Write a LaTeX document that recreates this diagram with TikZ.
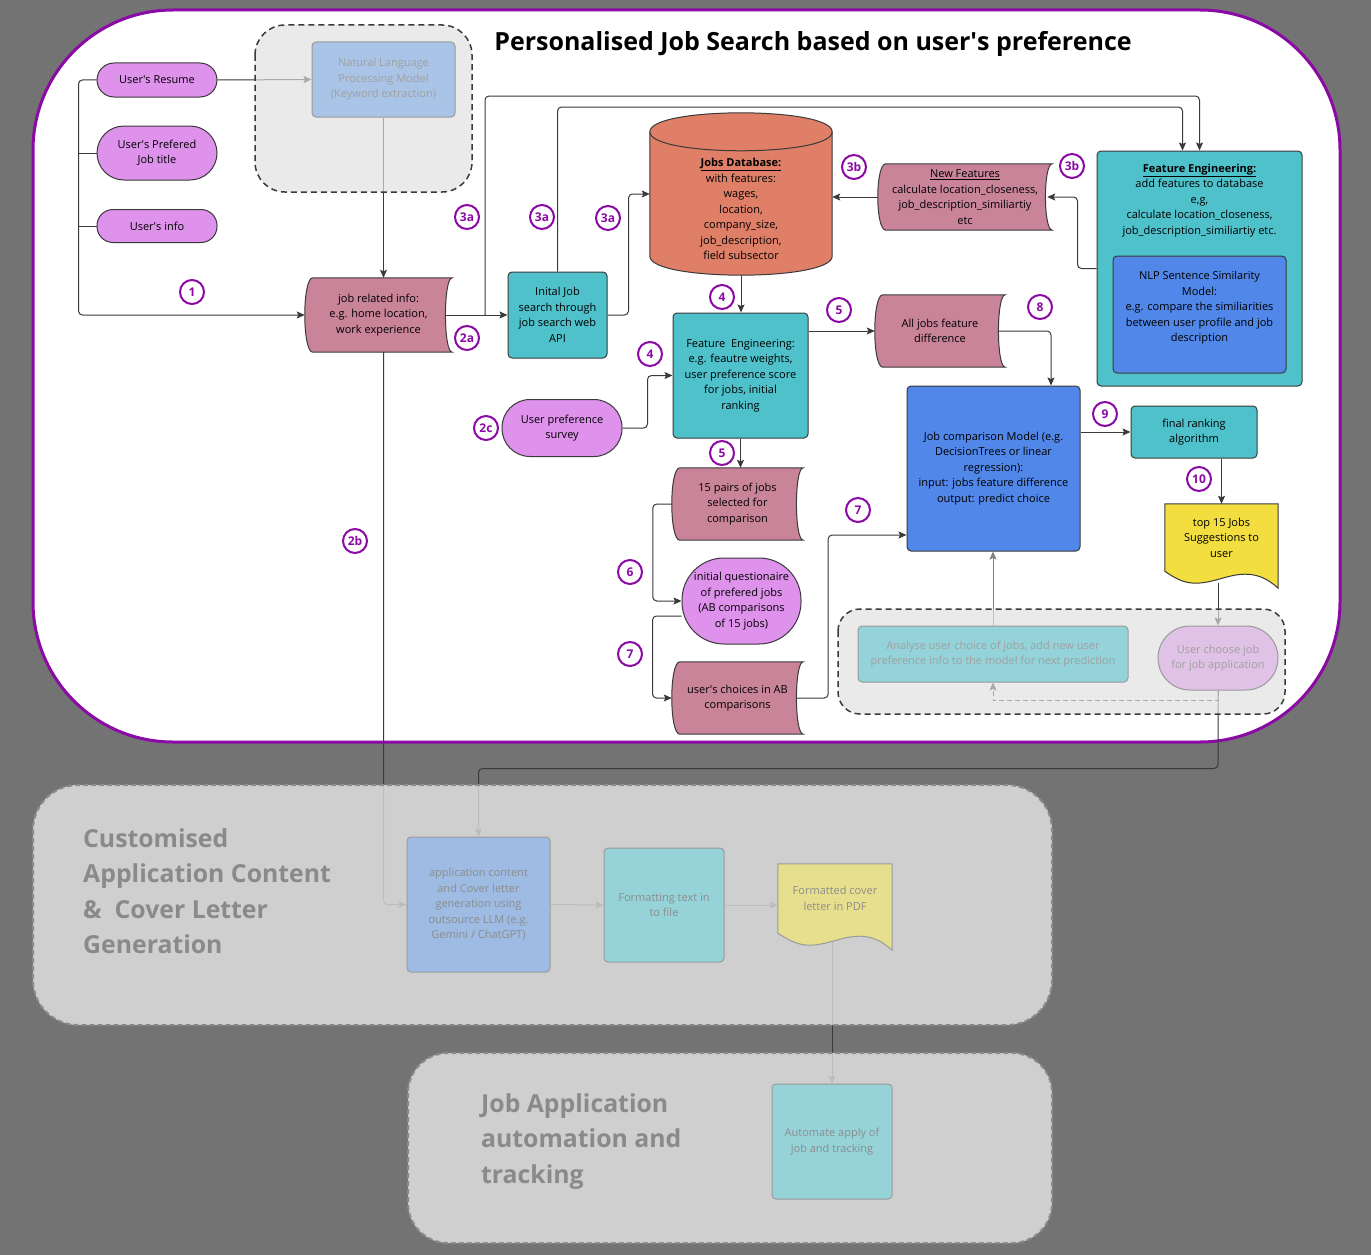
\documentclass[tikz,border=0pt]{standalone}
\usepackage{fontspec}
\setmainfont{Open Sans}
\usetikzlibrary{arrows.meta, calc, positioning}
\definecolor{bggray}{HTML}{737373}
\definecolor{panelpurple}{HTML}{8B0AA5}
\definecolor{pillviolet}{HTML}{DE92EC}
\definecolor{mauve}{HTML}{C98499}
\definecolor{tealbox}{HTML}{4FC1CB}
\definecolor{bluebox}{HTML}{5187E8}
\definecolor{salmon}{HTML}{E07F67}
\definecolor{jobyellow}{HTML}{F2DE3E}
\definecolor{linedark}{HTML}{3A3A3A}
\definecolor{veilgray}{HTML}{E1E1E1}
\definecolor{nlpfaded}{HTML}{A9C4E6}
\definecolor{fadedline}{HTML}{9A9A9A}
\definecolor{fadedtext}{HTML}{A0A0A0}
\definecolor{analysefaded}{HTML}{93D3D9}
\definecolor{choosefaded}{HTML}{E1C2E7}
\definecolor{appblue}{HTML}{9DBBE3}
\definecolor{lowteal}{HTML}{95D3D9}
\definecolor{pdfyellow}{HTML}{E6E08E}
\definecolor{lowtext}{HTML}{8C8C8C}
\definecolor{headgray}{HTML}{8A8A8A}
\newcommand{\nodefont}{\fontsize{11}{15.5}\selectfont}
\newcommand{\apos}{\textquotesingle}
\pgfdeclarelayer{background}
\pgfdeclarelayer{veil}
\pgfdeclarelayer{veiltop}
\pgfsetlayers{background,main,veil,veiltop}
\tikzset{every node/.style={font=\nodefont},
  line/.style={draw=linedark, line width=1pt, rounded corners=4pt},
  arrow/.style={line, -{Stealth[length=8pt,width=7pt,inset=1.5pt]}},
  box/.style={rectangle, draw=linedark, line width=1pt, rounded corners=4pt, align=center, inner sep=2pt},
  pill/.style={box, fill=pillviolet, rounded corners=#1},
  shapetext/.style={rectangle, align=center, inner sep=2pt},
  faded/.style={draw=fadedline, text=fadedtext},
  lowbox/.style={box, draw=fadedline, text=lowtext},
  heading/.style={align=left, anchor=west, inner sep=0pt, text=headgray, font=\fontsize{24.8}{35.5}\selectfont\bfseries},
  badge/.style={circle, draw=panelpurple, line width=2pt, fill=white, minimum size=24pt, inner sep=0pt, text=panelpurple, font=\fontsize{12}{13}\selectfont\bfseries},
  groupveil/.style={fill=veilgray, fill opacity=0.67, draw=linedark, line width=1.5pt, dash pattern=on 6pt off 4pt, rounded corners=#1},
  panelveil/.style={fill=white, fill opacity=0.664, draw=fadedline!90!black, line width=2pt, dash pattern=on 5pt off 3pt, rounded corners=#1}}
\newcommand{\storedfill}[2]{\fill[#2, draw=linedark, line width=1pt] ([xshift=8pt]#1.north west) -- (#1.north east) .. controls ([xshift=-9pt]#1.north east) and ([xshift=-9pt]#1.south east) .. (#1.south east) -- ([xshift=8pt]#1.south west) .. controls ([xshift=-2.7pt]#1.south west) and ([xshift=-2.7pt]#1.north west) .. ([xshift=8pt]#1.north west) -- cycle;}
\newcommand{\docfill}[3]{\fill[#2, draw=#3, line width=1pt] (#1.north west) -- (#1.north east) -- ([yshift=-17pt]#1.south east) .. controls ([xshift=-10pt,yshift=-8pt]#1.south east) and ([xshift=-20pt,yshift=-3pt]#1.south east) .. ([xshift=-33pt,yshift=-3pt]#1.south east) .. controls ([xshift=-50pt,yshift=-3pt]#1.south east) and ([xshift=-65pt,yshift=-12pt]#1.south east) .. ([xshift=-83pt,yshift=-12pt]#1.south east) .. controls ([xshift=-95pt,yshift=-12pt]#1.south east) and ([xshift=-105pt,yshift=-6pt]#1.south east) .. (#1.south west) -- cycle;}

\begin{document}
\begin{tikzpicture}[x=1pt, y=-1pt]
\useasboundingbox (0,0) rectangle (1371,1255);

\node[font=\fontsize{25}{30}\selectfont\bfseries] (title) at (813,44) {Personalised Job Search based on user\apos s preference};

\node[pill=17pt, minimum width=120pt, minimum height=34pt] (resume) at (157,80) {User\apos s Resume};
\node[pill=27pt, minimum width=120pt, minimum height=54pt] (job_title) at (157,153) {User\apos s Prefered\\Job title};
\node[pill=16pt, minimum width=120pt, minimum height=33pt] (user_info) at (157,226) {User\apos s info};
\node[shapetext, minimum width=147pt, minimum height=74pt] (job_info) at (378.5,315) {job related info:\\e.g. home location,\\work experience};
\node[box, fill=tealbox, minimum width=99pt, minimum height=86pt] (init_search) at (557.5,315) {Inital Job\\search through\\job search web\\API};
\node[minimum width=182pt, minimum height=162pt] (jobs_db) at (741,194) {};
\node[shapetext] (db_label) at (741,209) {\underline{\textbf{Jobs Database:}}\\with features:\\wages,\\location,\\company\_size,\\job\_description,\\field subsector};
\node[shapetext, minimum width=174pt, minimum height=66pt] (new_feat) at (965,197) {\underline{New Features}\\calculate location\_closeness,\\job\_description\_similiartiy\\etc};
\node[box, fill=tealbox, minimum width=205pt, minimum height=235pt] (fe_db) at (1199.5,268.5) {};
\node[shapetext, anchor=north] (fe_db_label) at ([yshift=-11pt]fe_db.north) {\underline{\textbf{Feature Engineering:}}\\add features to database\\e,g,\\calculate location\_closeness,\\job\_description\_similiartiy etc.};
\node[box, fill=bluebox, minimum width=173pt, minimum height=117pt, text depth=16pt] (nlp_sim) at (1199.5,314.5) {NLP Sentence Similarity\\Model:\\e.g. compare the similiarities\\between user profile and job\\description};
\node[box, fill=tealbox, minimum width=135pt, minimum height=125pt] (fe_pref) at (740.5,375.5) {Feature~ Engineering:\\e.g. feautre weights,\\user preference score\\for jobs, initial\\ranking};
\node[pill=28pt, minimum width=120pt, minimum height=57pt] (survey) at (562,428) {User preference\\survey};
\node[shapetext, minimum width=131pt, minimum height=72pt] (pairs) at (737.5,504) {15 pairs of jobs\\selected for\\comparison};
\node[pill=42pt, minimum width=119pt, minimum height=86pt, inner sep=0pt] (questionaire) at (741.5,601) {initial questionaire\\of prefered jobs\\(AB comparisons\\of 15 jobs)};
\node[shapetext, minimum width=131pt, minimum height=72pt] (choices) at (737.5,698) {user\apos s choices in AB\\comparisons};
\node[shapetext, minimum width=130pt, minimum height=72pt] (all_diff) at (940,331) {All jobs feature\\difference};
\node[box, fill=bluebox, minimum width=173pt, minimum height=165pt] (jc_model) at (993.5,468.5) {Job comparison Model (e.g.\\DecisionTrees or linear\\regression):\\input: jobs feature difference\\output: predict choice};
\node[box, fill=tealbox, minimum width=126pt, minimum height=52pt] (final_rank) at (1194,432) {final ranking\\algorithm};
\node[shapetext, minimum width=113pt, minimum height=67pt] (top_jobs) at (1221.5,537.5) {top 15 Jobs\\Suggestions to\\user};

\begin{pgfonlayer}{veiltop}
\node[box, faded, fill=nlpfaded, minimum width=143pt, minimum height=75pt] (nlp_model) at (383.5,79.5) {Natural Language\\Processing Model\\(Keyword extraction)};
\node[box, faded, fill=analysefaded, minimum width=270pt, minimum height=56pt] (analyse) at (993,654) {Analyse user choice of jobs, add new user\\preference info to the model for next prediction};
\node[pill=32pt, faded, fill=choosefaded, minimum width=120pt, minimum height=64pt] (user_choose) at (1218,658) {User choose job\\for job application};
\node[lowbox, fill=appblue, minimum width=143pt, minimum height=135pt] (app_content) at (478.5,904.5) {application content\\and Cover letter\\generation using\\outsource LLM (e.g.\\Gemini / ChatGPT)};
\node[lowbox, fill=lowteal, minimum width=120pt, minimum height=114pt] (formatting) at (664,905) {Formatting text in\\to file};
\node[shapetext, text=lowtext, minimum width=114pt, minimum height=69pt] (cover_pdf) at (835,898.5) {Formatted cover\\letter in PDF};
\node[lowbox, fill=lowteal, minimum width=120pt, minimum height=115pt] (automate) at (832,1141.5) {Automate apply of\\job and tracking};
\node[heading] (customised_head) at (83,891) {Customised\\Application Content\\\&~ Cover Letter\\Generation};
\node[heading] (automation_head) at (481,1141.5) {Job Application\\automation and\\tracking};
\end{pgfonlayer}

\draw[arrow] (resume.east) -- (nlp_model.west);
\draw[arrow] (nlp_model.south) -- (nlp_model.south |- job_info.north);
\draw[arrow] (resume.west) -- ++(-18,0) |- (job_info.west);
\draw[line] (job_title.west) -- ++(-18,0);
\draw[line] (user_info.west) -- ++(-18,0);
\draw[arrow] ([xshift=-6pt]job_info.east) -- (init_search.west);
\coordinate (api_split) at (485,315);
\draw[arrow] (api_split) -- (485,96) -| (fe_db.north);
\draw[arrow] (init_search.north) -- (557.5,107) -| ([xshift=-17pt]fe_db.north);
\draw[arrow] (init_search.east) -- ++(21,0) |- (jobs_db.west);
\draw[arrow] (new_feat.west) -- (new_feat.west -| jobs_db.east);
\draw[arrow] (fe_db.west) -- ++(-19,0) |- ([xshift=-5pt]new_feat.east);
\draw[arrow] (jobs_db.south) -- (jobs_db.south |- fe_pref.north);
\draw[arrow] (survey.east) -- ++(25,0) |- (fe_pref.west);
\draw[arrow] (fe_pref.south) -- (fe_pref.south |- pairs.north);
\draw[arrow] (fe_pref.east |- all_diff.west) -- (all_diff.west);
\draw[arrow] ([xshift=-6pt]all_diff.east) -| ([xshift=57.5pt]jc_model.north);
\draw[arrow] (pairs.west) -- ++(-19,0) |- (questionaire.west);
\draw[arrow] ([yshift=-15pt]questionaire.west) -- ++(-29,0) |- (choices.west);
\draw[arrow] ([xshift=-6pt]choices.east) -- ++(31,0) |- ([yshift=-66.5pt]jc_model.west);
\draw[arrow] (jc_model.east |- final_rank.west) -- (final_rank.west);
\draw[arrow] (final_rank.south -| top_jobs.north) -- (top_jobs.north);
\draw[arrow] ($(top_jobs.south -| user_choose.north)+(0,12)$) -- (user_choose.north);
\draw[arrow, draw=gray] (analyse.north) -- (analyse.north |- jc_model.south);
\draw[arrow, dash pattern=on 5pt off 3pt, rounded corners=0pt] (user_choose.south) -- ++(0,10) -| (analyse.south);
\draw[arrow] (user_choose.south) -- ++(0,78) -| (app_content.north);
\draw[arrow] (nlp_model.south |- job_info.south) |- (app_content.west);
\draw[arrow] (app_content.east) -- (formatting.west);
\draw[arrow] (formatting.east) -- (formatting.east -| cover_pdf.west);
\draw[arrow] ($(cover_pdf.south -| automate.north)+(0,8)$) -- (automate.north);

\foreach \n/\lbl/\px/\py in {one/1/192/292, two_a/2a/467/338, three_a/3a/467/217, three_a2/3a/542/217, three_a3/3a/608/218, three_b/3b/854/167, three_b2/3b/1072/166, four/4/722/297, four2/4/650/354, five/5/839/310, five2/5/722/453, two_c/2c/486/428, two_b/2b/355/541, six/6/630/572, seven/7/630/654, seven2/7/858/510, eight/8/1040/307, nine/9/1105/414, ten/10/1199/479}
  \node[badge] (badge_\n) at (\px,\py) {\lbl};

\begin{pgfonlayer}{background}
\fill[bggray] (0,0) rectangle (1371,1255);
\draw[panelpurple, line width=3pt, fill=white, rounded corners=140pt] (33,10) rectangle (1340,742);
\storedfill{job_info}{mauve}
\storedfill{new_feat}{mauve}
\storedfill{pairs}{mauve}
\storedfill{choices}{mauve}
\storedfill{all_diff}{mauve}
\fill[salmon, draw=linedark, line width=1pt] ([yshift=-19pt]jobs_db.north west) -- ([yshift=19pt]jobs_db.south west) .. controls ([yshift=-6.3pt]jobs_db.south west) and ([yshift=-6.3pt]jobs_db.south east) .. ([yshift=19pt]jobs_db.south east) -- ([yshift=-19pt]jobs_db.north east) .. controls ([yshift=6.3pt]jobs_db.north east) and ([yshift=6.3pt]jobs_db.north west) .. ([yshift=-19pt]jobs_db.north west) -- cycle;
\draw[linedark, line width=1pt] ([yshift=-19pt]jobs_db.north west) .. controls ([yshift=-44.3pt]jobs_db.north west) and ([yshift=-44.3pt]jobs_db.north east) .. ([yshift=-19pt]jobs_db.north east);
\docfill{top_jobs}{jobyellow}{linedark}
\end{pgfonlayer}

\begin{pgfonlayer}{veil}
\draw[groupveil=30pt] (255,25) rectangle (472,192);
\draw[groupveil=22pt] (838,609) rectangle (1285,714);
\draw[panelveil=45pt] (33,785) rectangle (1052,1025);
\draw[panelveil=40pt] (408,1053) rectangle (1052,1243);
\docfill{cover_pdf}{pdfyellow}{fadedline}
\end{pgfonlayer}
\end{tikzpicture}
\end{document}
